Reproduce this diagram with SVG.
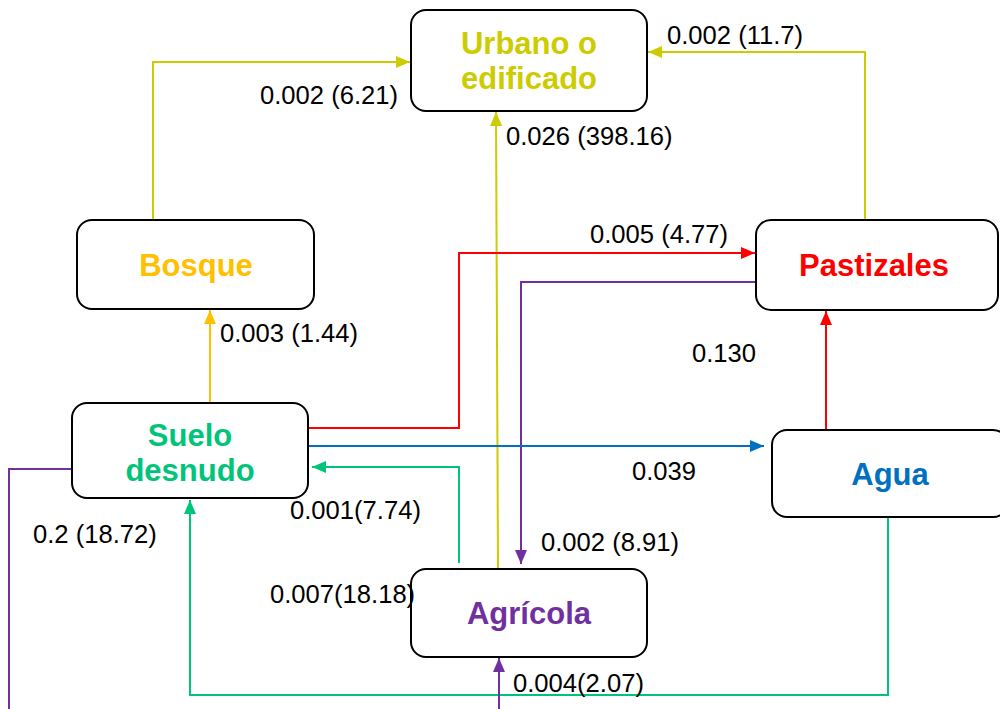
<svg xmlns="http://www.w3.org/2000/svg" width="1000" height="709" viewBox="0 0 1000 709">
<style>
.box{fill:#fff;stroke:#000;stroke-width:2}
.nt{font-family:"Liberation Sans",Arial,sans-serif;font-weight:bold;font-size:31px;text-anchor:middle}
.lb{font-family:"Liberation Sans",Arial,sans-serif;font-size:25.6px;fill:#000}
.c{fill:none;stroke-width:2}
</style>
<defs>
<marker id="ay" markerWidth="14" markerHeight="12" refX="14" refY="6" orient="auto" markerUnits="userSpaceOnUse"><path d="M0,0L14,6L0,12z" fill="#CCCC00"/></marker>
<marker id="ao" markerWidth="14" markerHeight="12" refX="14" refY="6" orient="auto" markerUnits="userSpaceOnUse"><path d="M0,0L14,6L0,12z" fill="#FFC000"/></marker>
<marker id="ar" markerWidth="14" markerHeight="12" refX="14" refY="6" orient="auto" markerUnits="userSpaceOnUse"><path d="M0,0L14,6L0,12z" fill="#FF0000"/></marker>
<marker id="ap" markerWidth="14" markerHeight="12" refX="14" refY="6" orient="auto" markerUnits="userSpaceOnUse"><path d="M0,0L14,6L0,12z" fill="#7030A0"/></marker>
<marker id="ab" markerWidth="14" markerHeight="12" refX="14" refY="6" orient="auto" markerUnits="userSpaceOnUse"><path d="M0,0L14,6L0,12z" fill="#0070C0"/></marker>
<marker id="ag" markerWidth="14" markerHeight="12" refX="14" refY="6" orient="auto" markerUnits="userSpaceOnUse"><path d="M0,0L14,6L0,12z" fill="#00C47A"/></marker>
</defs>
<rect width="1000" height="709" fill="#fff"/>
<g id="connectors">
<path class="c" stroke="#CCCC00" d="M153,220V62H410" marker-end="url(#ay)"/>
<path class="c" stroke="#CCCC00" d="M865,220V52H648" marker-end="url(#ay)"/>
<path class="c" stroke="#CCCC00" d="M498,569L496,112" marker-end="url(#ay)"/>
<path class="c" stroke="#FFC000" d="M210,403V310" marker-end="url(#ao)"/>
<path class="c" stroke="#FF0000" d="M308,428H459V253H755" marker-end="url(#ar)"/>
<path class="c" stroke="#FF0000" d="M826,430V311" marker-end="url(#ar)"/>
<path class="c" stroke="#7030A0" d="M756,282H521V564" marker-end="url(#ap)"/>
<path class="c" stroke="#0070C0" d="M308,446H764" marker-end="url(#ab)"/>
<path class="c" stroke="#00C47A" d="M459,563V467H312" marker-end="url(#ag)"/>
<path class="c" stroke="#00C47A" d="M888,517V695H190V500" marker-end="url(#ag)"/>
<path class="c" stroke="#7030A0" d="M72,469H9V709"/>
<path class="c" stroke="#7030A0" d="M499,709V658" marker-end="url(#ap)"/>
</g>
<g id="urbano"><rect class="box" x="411" y="10" width="236" height="101" rx="15"/><text class="nt" fill="#CCCC00" x="529" y="54">Urbano o</text><text class="nt" fill="#CCCC00" x="529" y="89">edificado</text></g>
<g id="bosque"><rect class="box" x="77" y="220" width="237" height="89" rx="15"/><text class="nt" fill="#FFC000" x="196" y="276">Bosque</text></g>
<g id="pastizales"><rect class="box" x="756" y="220" width="242" height="90" rx="15"/><text class="nt" fill="#FF0000" x="874" y="276">Pastizales</text></g>
<g id="suelo"><rect class="box" x="72" y="403" width="236" height="95" rx="15"/><text class="nt" fill="#00C47A" x="190" y="446">Suelo</text><text class="nt" fill="#00C47A" x="190" y="481">desnudo</text></g>
<g id="agua"><rect class="box" x="772" y="430" width="236" height="87" rx="15"/><text class="nt" fill="#0070C0" x="890" y="485">Agua</text></g>
<g id="agricola"><rect class="box" x="411" y="569" width="236" height="88" rx="15"/><text class="nt" fill="#7030A0" x="529" y="624">Agrícola</text></g>
<g id="labels">
<text class="lb" x="260" y="104">0.002 (6.21)</text>
<text class="lb" x="667" y="44">0.002 (11.7)</text>
<text class="lb" x="506" y="145">0.026 (398.16)</text>
<text class="lb" x="590" y="243">0.005 (4.77)</text>
<text class="lb" x="220" y="342">0.003 (1.44)</text>
<text class="lb" x="692" y="362">0.130</text>
<text class="lb" x="632" y="480">0.039</text>
<text class="lb" x="290" y="519">0.001(7.74)</text>
<text class="lb" x="33" y="543">0.2 (18.72)</text>
<text class="lb" x="541" y="551">0.002 (8.91)</text>
<text class="lb" x="270" y="603">0.007(18.18)</text>
<text class="lb" x="513" y="692">0.004(2.07)</text>
</g>
</svg>
